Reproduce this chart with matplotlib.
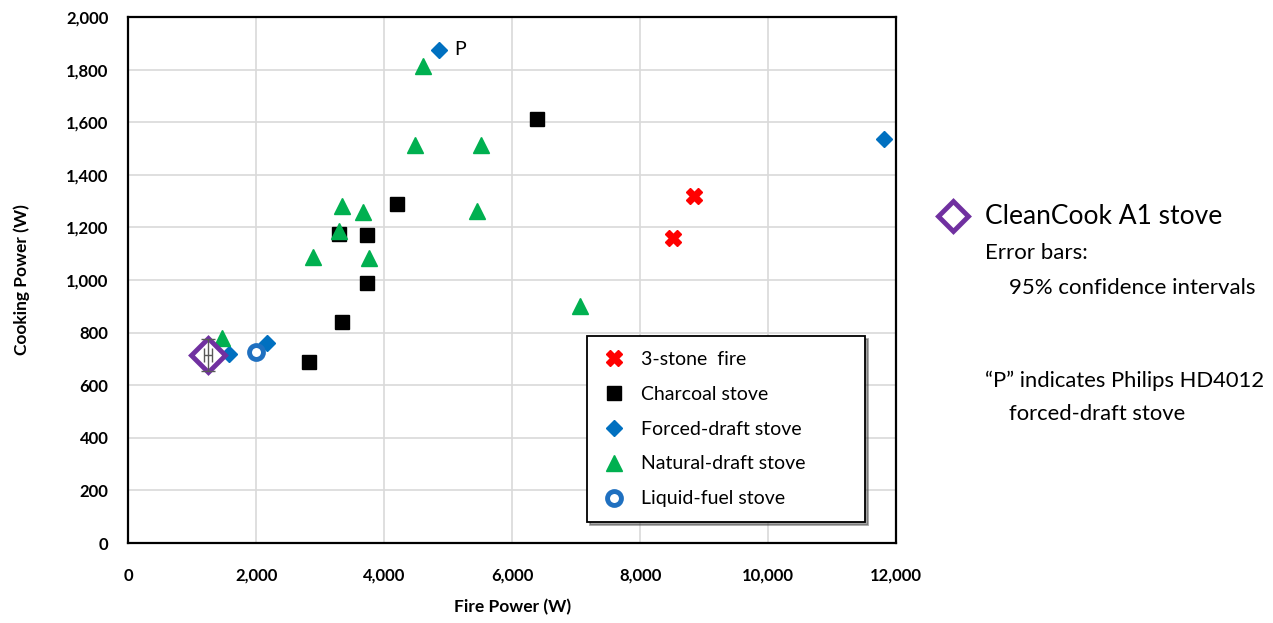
import matplotlib
matplotlib.use('Agg')
import matplotlib.pyplot as plt
from matplotlib.ticker import FuncFormatter

plt.rcParams['font.family'] = ['Lato', 'DejaVu Sans']

# data (W)
three_stone_x = [8520, 8840]
three_stone_y = [1160, 1318]
charcoal_x = [2830, 3300, 3340, 3730, 3730, 4200, 6390]
charcoal_y = [688, 1175, 842, 1172, 988, 1290, 1612]
forced_x = [1580, 2170, 4860, 11810]
forced_y = [718, 760, 1875, 1536]
natural_x = [1470, 2890, 3300, 3340, 3670, 3770, 4480, 4610, 5450, 5520, 7060]
natural_y = [779, 1087, 1186, 1283, 1260, 1085, 1513, 1814, 1264, 1513, 901]
liquid_x = [2000]
liquid_y = [726]
cleancook_x = [1250]
cleancook_y = [715]
cleancook_xerr = [60]
cleancook_yerr = [60]
philips_x = 4860
philips_y = 1875

fig = plt.figure(figsize=(12.73, 6.23), dpi=100)
ax = fig.add_axes([0.1006, 0.1284, 0.6033, 0.8443])

h1, = ax.plot(three_stone_x, three_stone_y, 'X', color='#FF0000', ms=11, mec='#FF0000',
              ls='none', label='3-stone  fire', zorder=3)
h2, = ax.plot(charcoal_x, charcoal_y, 's', color='black', ms=10, ls='none',
              label='Charcoal stove', zorder=3)
h3, = ax.plot(forced_x, forced_y, 'D', color='#0070C0', ms=8, ls='none',
              label='Forced-draft stove', zorder=3)
h4, = ax.plot(natural_x, natural_y, '^', color='#00B050', ms=11, ls='none',
              label='Natural-draft stove', zorder=4)
h5, = ax.plot(liquid_x, liquid_y, 'o', mfc='white', mec='#1F70C0', mew=3.5, ms=10,
              ls='none', label='Liquid-fuel stove', zorder=3)

ax.plot(cleancook_x, cleancook_y, 'D', mfc='white', mec='#7030A0', mew=3.5, ms=17,
        ls='none', zorder=5)
ax.errorbar(cleancook_x, cleancook_y, xerr=cleancook_xerr, yerr=cleancook_yerr,
            fmt='none', ecolor='#595959', elinewidth=1, capsize=5, zorder=6)
ax.annotate('P', (philips_x, philips_y), xytext=(11, 0), textcoords='offset points',
            fontsize=14, va='center', ha='left')

ax.set_xlim(0, 12000)
ax.set_ylim(0, 2000)
ax.set_xticks(range(0, 12001, 2000))
ax.set_yticks(range(0, 2001, 200))
fmt = FuncFormatter(lambda v, p: '{:,.0f}'.format(v))
ax.xaxis.set_major_formatter(fmt)
ax.yaxis.set_major_formatter(fmt)
ax.grid(True, color='#D9D9D9', lw=1.2)
ax.set_axisbelow(True)
ax.tick_params(length=0, labelsize=12)
ax.tick_params(axis='y', pad=14)
ax.tick_params(axis='x', pad=18)
for lb in ax.get_xticklabels() + ax.get_yticklabels():
    lb.set_fontweight('bold')
for s in ax.spines.values():
    s.set_linewidth(1.6)
    s.set_color('black')

ax.set_xlabel('Fire Power (W)', fontsize=12.5, fontweight='bold', labelpad=11)
ax.set_ylabel('Cooking Power (W)', fontsize=12.5, fontweight='bold', labelpad=26)

leg = ax.legend(handles=[h1, h2, h3, h4, h5], loc='lower left',
                bbox_to_anchor=(0.598, 0.04, 0.362, 0.35), mode='expand',
                fontsize=14, frameon=True, fancybox=False, shadow=True,
                edgecolor='black', labelspacing=0.92, borderpad=0.75,
                handletextpad=0.8, borderaxespad=0, handlelength=1.2)
leg.get_frame().set_linewidth(1.3)

# side notes
ax.plot([0.749], [0.653], 'D', mfc='white', mec='#7030A0', mew=3.5, ms=15,
        transform=fig.transFigure, clip_on=False)
fig.text(0.774, 0.653, 'CleanCook A1 stove', fontsize=19, va='center')
fig.text(0.774, 0.594, 'Error bars:', fontsize=16, va='center')
fig.text(0.793, 0.538, '95% confidence intervals', fontsize=16, va='center')
fig.text(0.774, 0.388, '\u201cP\u201d indicates Philips HD4012', fontsize=15.8, va='center')
fig.text(0.793, 0.335, 'forced-draft stove', fontsize=15.8, va='center')

fig.savefig('out.png', dpi=100)
